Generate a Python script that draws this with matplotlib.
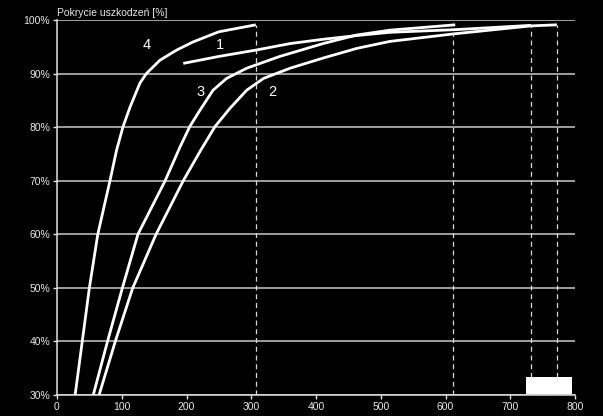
import matplotlib
matplotlib.use('Agg')
import matplotlib.pyplot as plt
from matplotlib.patches import Rectangle

# curve data (x, coverage %)
c1_x = [195, 250, 308, 360, 411, 463, 514, 615, 732]
c1_y = [91.9, 93.2, 94.4, 95.6, 96.4, 97.1, 97.7, 98.2, 99.0]

c2_x = [65, 90, 117, 153, 195, 222, 244, 267, 293, 319, 360, 411, 463, 514, 612, 732, 772]
c2_y = [30, 40, 50, 60, 70, 75.7, 80.1, 83.5, 86.9, 89.1, 91.0, 92.9, 94.7, 96.0, 97.4, 98.9, 99.1]

c3_x = [56, 78, 101, 125, 167, 190, 205, 221, 241, 262, 293, 344, 411, 463, 514, 615]
c3_y = [30, 40, 50, 60, 70, 76.3, 80.1, 83.2, 86.9, 89.1, 91.0, 93.2, 95.6, 97.2, 98.1, 99.1]

c4_x = [28, 39, 50, 63, 82, 92, 102, 113, 128, 138, 159, 185, 210, 250, 307]
c4_y = [30, 40, 50, 60, 70.1, 75.7, 80.1, 83.8, 88.2, 90.0, 92.5, 94.4, 95.9, 97.8, 99.1]

curves = [(c1_x, c1_y), (c2_x, c2_y), (c3_x, c3_y), (c4_x, c4_y)]

labels = ['1', '2', '3', '4']
label_x = [252, 332, 221, 139]
label_y = [95.3, 86.6, 86.6, 95.3]

# dashed drop lines (x, top %)
drop_x = [307, 612, 732, 772]
drop_top = [99.1, 97.4, 98.9, 99.1]

x_ticks = [0, 100, 200, 300, 400, 500, 600, 700, 800]
y_ticks = [30, 40, 50, 60, 70, 80, 90, 100]

plt.rcParams['font.family'] = ['Liberation Sans', 'DejaVu Sans']

fig = plt.figure(figsize=(6.03, 4.16), dpi=100, facecolor='black')
ax = fig.add_axes([57 / 603, 21 / 416, 518 / 603, 375 / 416])
ax.set_facecolor('black')

for y in y_ticks:
    ax.axhline(y, color='#c8c8c8', lw=1.1, zorder=1)

for x, top in zip(drop_x, drop_top):
    ax.plot([x, x], [30, top], color='#d8d8d8', lw=0.9, ls=(0, (4, 3)), zorder=2)

for xs, ys in curves:
    ax.plot(xs, ys, color='white', lw=2.0, solid_capstyle='butt',
            solid_joinstyle='round', zorder=3)

for t, x, y in zip(labels, label_x, label_y):
    ax.text(x, y, t, color='white', fontsize=10.5, ha='center', va='center')

ax.add_patch(Rectangle((724, 30.15), 71, 3.2, facecolor='white', edgecolor='none', zorder=4))

ax.set_xlim(0, 800)
ax.set_ylim(30, 100)
ax.set_xticks(x_ticks)
ax.set_yticks(y_ticks)
ax.set_yticklabels(['{}%'.format(y) for y in y_ticks])

for side in ['top', 'right']:
    ax.spines[side].set_visible(False)
for side in ['left', 'bottom']:
    ax.spines[side].set_color('#e0e0e0')
    ax.spines[side].set_linewidth(1.1)

ax.tick_params(colors='#e0e0e0', labelcolor='#e8e8e8', labelsize=7.5, length=3, width=1)
ax.tick_params(axis='x', pad=2)
ax.tick_params(axis='y', pad=2)

fig.text(57 / 603, 1 - 13 / 416, 'Pokrycie uszkodzeń [%]', color='#e8e8e8', fontsize=7.5,
         ha='left', va='center')

fig.savefig('out.png', dpi=100, facecolor='black')
